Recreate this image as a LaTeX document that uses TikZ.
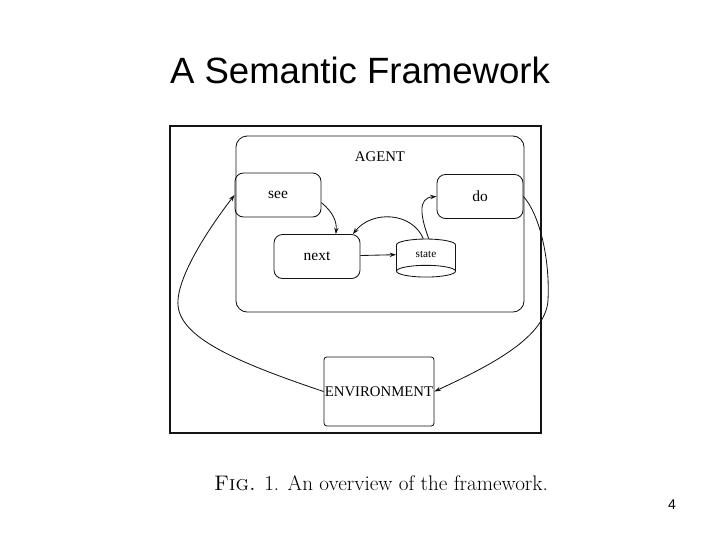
\documentclass[tikz,border=0pt]{standalone}
\usepackage{fontspec}
\usepackage{xcolor}
\usepackage{tikz}
\usetikzlibrary{
  arrows.meta,
  positioning,
  shapes.geometric
}
\newfontfamily\slidefont{Liberation Sans}
\newfontfamily\figfont{Liberation Serif}
\definecolor{ink}{RGB}{20,20,20}
\tikzset{
  slide/.style={ font=\slidefont },
  frame/.style={
    draw=ink,
    line width=1pt,
    minimum width=9.275cm,
    minimum height=7.675cm
  },
  agentbox/.style={
    rounded corners=8pt,
    draw=ink,
    line width=0.6pt,
    minimum width=7.2cm,
    minimum height=4.4cm
  },
  procbox/.style={
    rounded corners=6pt,
    draw=ink,
    line width=0.6pt,
    minimum width=2.15cm,
    minimum height=1.1cm,
    align=center,
    font=\figfont\fontsize{11}{13}\selectfont
  },
  store/.style={
    cylinder,
    shape border rotate=270,
    aspect=0.5,
    draw=ink,
    line width=0.6pt,
    minimum width=1.475cm,
    minimum height=0.95cm,
    inner sep=1pt,
    font=\figfont\fontsize{8}{9}\selectfont
  },
  envbox/.style={
    rounded corners=2pt,
    draw=ink,
    line width=0.6pt,
    minimum width=2.75cm,
    minimum height=1.725cm,
    inner sep=0pt,
    font=\figfont\fontsize{10.5}{12}\selectfont
  },
  lbl/.style={
    font=\figfont\fontsize{10.5}{12}\selectfont
  },
  flow/.style={
    -{Stealth[length=1.6mm,width=1.1mm]},
    line width=0.6pt,
    draw=ink
  }
}

\begin{document}
\begin{tikzpicture}[slide, x=0.025cm, y=-0.025cm]
  \useasboundingbox (0,0) rectangle (720,540);
  \node[font=\slidefont\fontsize{26}{31}\selectfont] (title) at (360,70) {A Semantic Framework};
  \node[frame] (figframe) at (355.5,279.5) {};
  \node[agentbox] (agent) at (380,224) {};
  \node[lbl] (agentlbl) at (380,157) {AGENT};
  \node[procbox] (see) at (278,195) {see};
  \node[procbox] (do) at (480,196.5) {do};
  \node[procbox] (next) at (317,256.5) {next};
  \node[store] (state) at (426,254) {state};
  \node[envbox] (env) at (379,391.5) {ENVIRONMENT};
  \coordinate (lbend) at (178,300);
  \coordinate (rbend) at (548,300);
  \draw[flow] (see.-10) .. controls (333,212) and (337,222) .. (next.50);
  \draw[flow] (state.100) .. controls (412,212) and (372,210) .. (next.32);
  \draw[flow] (next) -- (state);
  \draw[flow] (state.80) .. controls (420,215) and (418,198) .. (do.west);
  \draw[flow] (env.west) .. controls (230,360) and (175,335) .. (lbend)
    .. controls (180,270) and (215,220) .. (see.west);
  \draw[flow] (do.east) .. controls (540,215) and (550,260) .. (rbend)
    .. controls (546,340) and (480,370) .. (env.east);
  \node[font=\rmfamily\fontsize{15}{18}\selectfont] (caption) at (381,483)
    {\textsc{Fig.} 1. An overview of the framework.};
  \node[font=\slidefont\fontsize{10}{12}\selectfont] (pagenum) at (672,505) {4};
\end{tikzpicture}
\end{document}
